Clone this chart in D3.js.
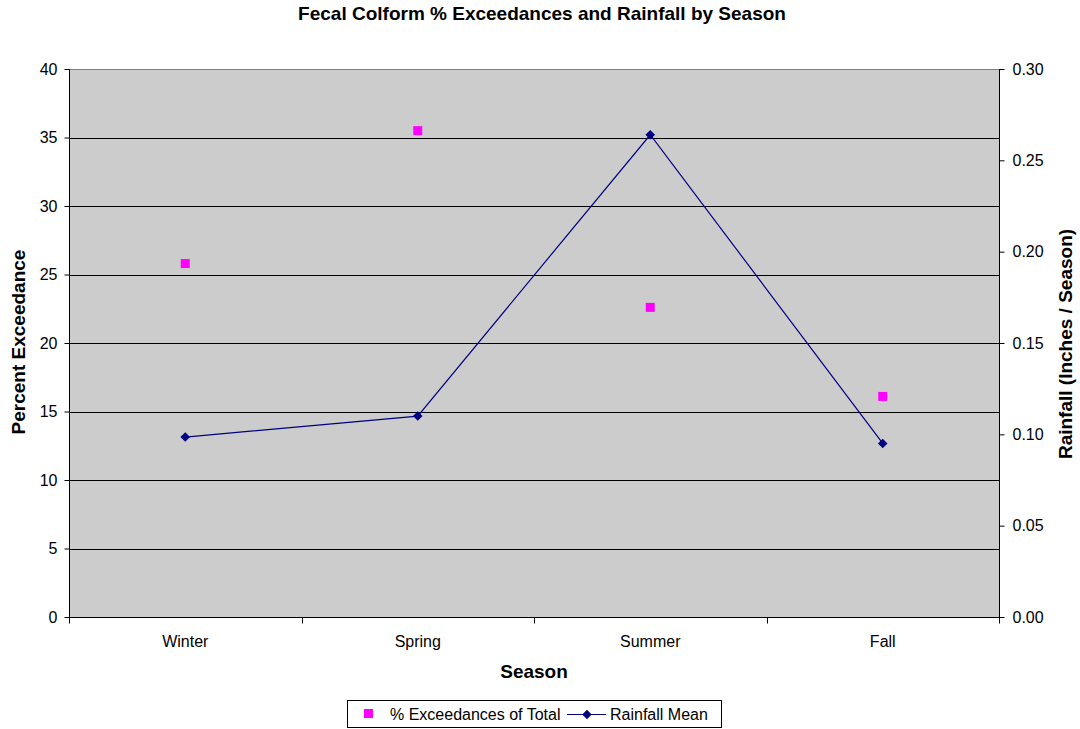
<!DOCTYPE html>
<html>
<head>
<meta charset="utf-8">
<script src="https://cdn.jsdelivr.net/npm/d3@7"></script>
<style>
  html, body { margin: 0; padding: 0; background: #fff; }
  svg { display: block; font-family: "Liberation Sans", Arial, sans-serif; }
</style>
</head>
<body>
<svg id="chart" width="1080" height="729"></svg>
<script>
// Seasons along the x axis
const seasons = ["Winter", "Spring", "Summer", "Fall"];
// Percent of samples exceeding the fecal coliform standard
const exceedancePct = [25.8, 35.5, 22.6, 16.1];
// Mean rainfall per season, inches
const rainfallMean = [0.0985, 0.110, 0.264, 0.095];
// Axis ticks
const leftTicks = [0, 5, 10, 15, 20, 25, 30, 35, 40];
const rightTicks = [0, 0.05, 0.10, 0.15, 0.20, 0.25, 0.30];

const svg = d3.select("#chart");
const plot = { left: 69, right: 999, top: 69, bottom: 617 };

const x = d3.scaleBand().domain(seasons).range([plot.left, plot.right]);
const yL = d3.scaleLinear().domain([0, 40]).range([plot.bottom, plot.top]);
const yR = d3.scaleLinear().domain([0, 0.30]).range([plot.bottom, plot.top]);

// Plot background
svg.append("rect")
  .attr("x", plot.left).attr("y", plot.top)
  .attr("width", plot.right - plot.left).attr("height", plot.bottom - plot.top)
  .attr("fill", "#cccccc");

// Horizontal gridlines
svg.append("g").selectAll("line")
  .data(leftTicks.filter(d => d > 0 && d < 40))
  .join("line")
  .attr("x1", plot.left).attr("x2", plot.right)
  .attr("y1", d => Math.round(yL(d)) + 0.5).attr("y2", d => Math.round(yL(d)) + 0.5)
  .attr("stroke", "#000").attr("stroke-width", 1);

// Plot border
svg.append("rect")
  .attr("x", plot.left + 0.5).attr("y", plot.top + 0.5)
  .attr("width", plot.right - plot.left).attr("height", plot.bottom - plot.top)
  .attr("fill", "none").attr("stroke", "#808080").attr("stroke-width", 1);

// Left axis
const gL = svg.append("g").attr("transform", `translate(${plot.left + 0.5},0)`)
  .call(d3.axisLeft(yL).tickValues(leftTicks).tickFormat(d3.format("d")).tickSize(5).tickPadding(7));
// Right axis
const gR = svg.append("g").attr("transform", `translate(${plot.right + 0.5},0)`)
  .call(d3.axisRight(yR).tickValues(rightTicks).tickFormat(d3.format(".2f")).tickSize(5).tickPadding(8));
// Bottom axis: ticks at category boundaries, labels centered in each band
const gB = svg.append("g").attr("transform", `translate(0,${plot.bottom + 0.5})`);
gB.append("line").attr("x1", plot.left).attr("x2", plot.right + 1).attr("stroke", "#000");
gB.selectAll("line.tk")
  .data(seasons.concat(["__end"]))
  .join("line").attr("class", "tk")
  .attr("x1", (d, i) => Math.round(i < seasons.length ? x(d) : plot.right) + 0.5)
  .attr("x2", (d, i) => Math.round(i < seasons.length ? x(d) : plot.right) + 0.5)
  .attr("y1", 0).attr("y2", 6).attr("stroke", "#000");
gB.selectAll("text")
  .data(seasons).join("text")
  .attr("x", d => x(d) + x.bandwidth() / 2).attr("y", 29)
  .attr("text-anchor", "middle").attr("font-size", 16).attr("fill", "#000")
  .text(d => d);

[gL, gR].forEach(g => {
  g.selectAll("text").attr("font-size", 16).attr("fill", "#000")
    .attr("font-family", "Liberation Sans, Arial, sans-serif");
  g.selectAll("line").attr("stroke", "#000");
  g.select(".domain").attr("stroke", "#000").attr("d", null);
});
gL.append("line").attr("y1", plot.top).attr("y2", plot.bottom + 1).attr("stroke", "#000");
gR.append("line").attr("y1", plot.top).attr("y2", plot.bottom + 1).attr("stroke", "#000");

// Rainfall line with diamond markers
const cx = d => x(d) + x.bandwidth() / 2;
const diamond = d3.symbol(d3.symbolSquare, 46);
svg.append("path")
  .datum(seasons.map((s, i) => [cx(s), yR(rainfallMean[i])]))
  .attr("d", d3.line())
  .attr("fill", "none").attr("stroke", "#000080").attr("stroke-width", 1.2);
svg.append("g").selectAll("path")
  .data(seasons)
  .join("path")
  .attr("d", diamond)
  .attr("transform", (d, i) => `translate(${cx(d)},${yR(rainfallMean[i])}) rotate(45)`)
  .attr("fill", "#000080");

// Exceedance squares
svg.append("g").selectAll("rect")
  .data(seasons)
  .join("rect")
  .attr("x", d => cx(d) - 4.5)
  .attr("y", (d, i) => yL(exceedancePct[i]) - 4.5)
  .attr("width", 9).attr("height", 9)
  .attr("fill", "#ff00ff");

// Title
svg.append("text")
  .attr("x", 542).attr("y", 20).attr("text-anchor", "middle")
  .attr("font-size", 19).attr("font-weight", "bold")
  .text("Fecal Colform % Exceedances and Rainfall by Season");

// Axis titles
svg.append("text")
  .attr("x", 534).attr("y", 678).attr("text-anchor", "middle")
  .attr("font-size", 19).attr("font-weight", "bold").text("Season");
svg.append("text")
  .attr("transform", `translate(25,${(plot.top + plot.bottom) / 2 - 1}) rotate(-90)`)
  .attr("text-anchor", "middle")
  .attr("font-size", 19).attr("font-weight", "bold").text("Percent Exceedance");
svg.append("text")
  .attr("transform", `translate(1072,${(plot.top + plot.bottom) / 2 + 1}) rotate(-90)`)
  .attr("text-anchor", "middle")
  .attr("font-size", 19).attr("font-weight", "bold").text("Rainfall (Inches / Season)");

// Legend
const lg = svg.append("g");
lg.append("rect").attr("x", 347.5).attr("y", 700.5).attr("width", 374).attr("height", 27)
  .attr("fill", "#fff").attr("stroke", "#000");
lg.append("rect").attr("x", 364).attr("y", 709).attr("width", 9).attr("height", 9).attr("fill", "#ff00ff");
lg.append("text").attr("x", 390).attr("y", 720).attr("font-size", 16).text("% Exceedances of Total");
lg.append("line").attr("x1", 567).attr("x2", 606).attr("y1", 714.5).attr("y2", 714.5)
  .attr("stroke", "#000080").attr("stroke-width", 1.2);
lg.append("path").attr("d", diamond)
  .attr("transform", "translate(587,714.5) rotate(45)").attr("fill", "#000080");
lg.append("text").attr("x", 610).attr("y", 720).attr("font-size", 16).text("Rainfall Mean");
</script>
</body>
</html>
